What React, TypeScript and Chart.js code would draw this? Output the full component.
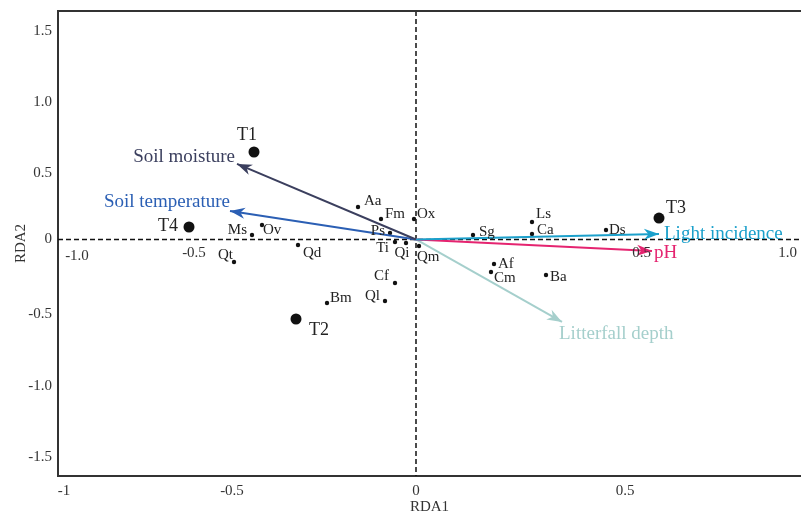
import React, { useEffect, useRef } from "react";
import { Chart, registerables } from "chart.js";
Chart.register(...registerables);

// ---- data ----
const siteNames = ["T1", "T2", "T3", "T4"];
const siteX = [-0.405, -0.3, 0.6075, -0.5675];
const siteY = [0.616, -0.56, 0.151, 0.088];

const speciesNames = ["Aa", "Fm", "Ox", "Ps", "Ti", "Qi", "Qm", "Sg", "Ls", "Ca", "Ds", "Af", "Cm", "Ba", "Cf", "Ql", "Bm", "Qd", "Qt", "Ms", "Ov"];
const speciesX = [-0.145, -0.0875, -0.005, -0.065, -0.0525, -0.025, 0.0075, 0.1425, 0.29, 0.29, 0.475, 0.195, 0.1875, 0.325, -0.0525, -0.0775, -0.2225, -0.295, -0.455, -0.41, -0.385];
const speciesY = [0.229, 0.144, 0.144, 0.046, -0.018, -0.025, -0.046, 0.032, 0.123, 0.039, 0.067, -0.173, -0.229, -0.25, -0.306, -0.433, -0.447, -0.039, -0.158, 0.032, 0.102];

const envNames = ["Soil moisture", "Soil temperature", "Light incidence", "pH", "Litterfall depth"];
const envX = [-0.4475, -0.465, 0.6075, 0.59, 0.365];
const envY = [0.532, 0.201, 0.039, -0.081, -0.581];

// tick label positions (as printed on the original, which are not evenly spaced)
const xTickValues = [-0.88, -0.46, 0, 0.5225];
const xTickLabels = ["-1", "-0.5", "0", "0.5"];
const yTickValues = [-1.53, -1.03, -0.525, 0, 0.47, 0.97, 1.47];
const yTickLabels = ["-1.5", "-1.0", "-0.5", "0", "0.5", "1.0", "1.5"];
const innerTickX = [-0.8475, -0.555, 0.564, 0.929];
const innerTickY = [-0.12, -0.095, -0.095, -0.095];
const innerTickLabels = ["-1.0", "-0.5", "0.5", "1.0"];

const xMin = -0.895;
const xMax = 0.9625;
const yMin = -1.6655;
const yMax = 1.609;

// ---- styles ----
const FONT = "'Liberation Serif', 'Times New Roman', serif";
const envColors = ["#3b3f5e", "#2b5fb4", "#1ba0cb", "#e52470", "#a5cfcc"];
type Off = [number, number, CanvasTextAlign];
const speciesLabelStyle: Off[] = [
  [6, -6, "left"], [4, -5, "left"], [3, -5, "left"], [-5, -2, "right"], [-6, 6, "right"],
  [-4, 10, "center"], [-2, 11, "left"], [6, -3, "left"], [4, -8, "left"], [5, -4, "left"],
  [3, 0, "left"], [4, 0, "left"], [3, 6, "left"], [4, 2, "left"], [-6, -7, "right"],
  [-5, -5, "right"], [3, -5, "left"], [5, 8, "left"], [-1, -7, "right"], [-5, -5, "right"],
  [1, 5, "left"],
];
const siteLabelStyle: Off[] = [[-7, -17, "center"], [13, 11, "left"], [7, -10, "left"], [-11, -1, "right"]];
const envLabelStyle: Off[] = [[-2, -7, "right"], [0, -9, "right"], [5, 0, "left"], [2, 2, "left"], [-3, 12, "left"]];

const decorPlugin = {
  id: "decor",
  beforeDatasetsDraw(chart: any) {
    const { ctx, chartArea, scales } = chart;
    const x0 = scales.x.getPixelForValue(0);
    const y0 = scales.y.getPixelForValue(0);
    ctx.save();
    ctx.strokeStyle = "#111";
    ctx.lineWidth = 1.5;
    ctx.setLineDash([5, 3]);
    ctx.beginPath();
    ctx.moveTo(chartArea.left, y0);
    ctx.lineTo(chartArea.right, y0);
    ctx.moveTo(x0, chartArea.top);
    ctx.lineTo(x0, chartArea.bottom);
    ctx.stroke();
    ctx.setLineDash([]);
    ctx.strokeStyle = "#333";
    ctx.lineWidth = 2;
    ctx.beginPath();
    ctx.moveTo(chartArea.left - 1, chartArea.top);
    ctx.lineTo(chartArea.right, chartArea.top);
    ctx.stroke();
    ctx.restore();
  },
  afterDatasetsDraw(chart: any) {
    const { ctx, scales } = chart;
    const sx = scales.x, sy = scales.y;
    const ox = sx.getPixelForValue(0), oy = sy.getPixelForValue(0);
    ctx.save();
    ctx.textBaseline = "middle";
    // arrow heads + labels
    envNames.forEach((name, i) => {
      const tx = sx.getPixelForValue(envX[i]);
      const ty = sy.getPixelForValue(envY[i]);
      const ang = Math.atan2(ty - oy, tx - ox);
      const L = 15, W = 5.5;
      const bx = tx - L * Math.cos(ang), by = ty - L * Math.sin(ang);
      const nx = tx - L * 0.7 * Math.cos(ang), ny = ty - L * 0.7 * Math.sin(ang);
      const px = -Math.sin(ang), py = Math.cos(ang);
      ctx.fillStyle = envColors[i];
      ctx.beginPath();
      ctx.moveTo(tx, ty);
      ctx.lineTo(bx + px * W, by + py * W);
      ctx.lineTo(nx, ny);
      ctx.lineTo(bx - px * W, by - py * W);
      ctx.closePath();
      ctx.fill();
      const st = envLabelStyle[i];
      ctx.font = `19px ${FONT}`;
      ctx.textAlign = st[2];
      ctx.fillText(name, tx + st[0], ty + st[1]);
    });
    // species labels
    ctx.fillStyle = "#222";
    ctx.font = `15px ${FONT}`;
    speciesNames.forEach((name, i) => {
      const st = speciesLabelStyle[i];
      ctx.textAlign = st[2];
      ctx.fillText(name, sx.getPixelForValue(speciesX[i]) + st[0], sy.getPixelForValue(speciesY[i]) + st[1]);
    });
    // site labels
    ctx.font = `18px ${FONT}`;
    siteNames.forEach((name, i) => {
      const st = siteLabelStyle[i];
      ctx.textAlign = st[2];
      ctx.fillText(name, sx.getPixelForValue(siteX[i]) + st[0], sy.getPixelForValue(siteY[i]) + st[1]);
    });
    // inline axis labels
    ctx.fillStyle = "#333";
    ctx.font = `15px ${FONT}`;
    ctx.textAlign = "center";
    innerTickLabels.forEach((t, i) => {
      ctx.fillText(t, sx.getPixelForValue(innerTickX[i]), sy.getPixelForValue(innerTickY[i]));
    });
    ctx.restore();
  },
};

export default function App() {
  const ref = useRef<HTMLCanvasElement | null>(null);
  useEffect(() => {
    if (!ref.current) return;
    const datasets: any[] = [];
    envNames.forEach((name, i) => {
      datasets.push({
        type: "line",
        label: name,
        data: [{ x: 0, y: 0 }, { x: envX[i], y: envY[i] }],
        borderColor: envColors[i],
        borderWidth: 2,
        pointRadius: 0,
        showLine: true,
        fill: false,
      });
    });
    datasets.push({
      type: "scatter",
      label: "species",
      data: speciesX.map((x, i) => ({ x, y: speciesY[i] })),
      backgroundColor: "#111",
      borderWidth: 0,
      pointRadius: 2.2,
    });
    datasets.push({
      type: "scatter",
      label: "sites",
      data: siteX.map((x, i) => ({ x, y: siteY[i] })),
      backgroundColor: "#111",
      borderWidth: 0,
      pointRadius: 5.5,
    });
    const chart = new Chart(ref.current, {
      type: "scatter",
      data: { datasets },
      options: {
        animation: false,
        responsive: true,
        maintainAspectRatio: false,
        devicePixelRatio: 1,
        layout: { autoPadding: false, padding: { left: 0, top: 11, right: 0, bottom: 0 } },
        plugins: { legend: { display: false }, tooltip: { enabled: false } },
        scales: {
          x: {
            type: "linear",
            min: xMin,
            max: xMax,
            bounds: "data",
            grid: { display: false, drawTicks: false },
            border: { display: true, color: "#333", width: 2 },
            afterBuildTicks: (s: any) => { s.ticks = xTickValues.map((v) => ({ value: v })); },
            afterFit: (s: any) => {
              s.height = 40;
              s.paddingLeft = 0;
              s.paddingRight = 0;
              s.paddingTop = 0;
              s.paddingBottom = 0;
            },
            ticks: {
              padding: 6,
              autoSkip: false,
              maxRotation: 0,
              color: "#333",
              font: { family: FONT, size: 15 },
              callback: (_v: any, i: number) => xTickLabels[i],
            },
            title: { display: true, text: "RDA1", color: "#333", font: { family: FONT, size: 15 }, padding: { top: 0, bottom: 0 } },
          },
          y: {
            type: "linear",
            min: yMin,
            max: yMax,
            bounds: "data",
            grid: { display: false, drawTicks: false },
            border: { display: true, color: "#333", width: 2 },
            afterBuildTicks: (s: any) => { s.ticks = yTickValues.map((v) => ({ value: v })); },
            afterFit: (s: any) => {
              s.width = 58;
              s.paddingLeft = 0;
              s.paddingRight = 0;
              s.paddingTop = 0;
              s.paddingBottom = 0;
            },
            ticks: {
              padding: 6,
              autoSkip: false,
              color: "#333",
              font: { family: FONT, size: 15 },
              callback: (_v: any, i: number) => yTickLabels[i],
            },
            title: { display: true, text: "RDA2", color: "#333", font: { family: FONT, size: 15 }, padding: { top: 12, bottom: 0 } },
          },
        },
      },
      plugins: [decorPlugin],
    } as any);
    return () => chart.destroy();
  }, []);
  return (
    <div style={{ position: "absolute", left: 0, top: 0, width: 801, height: 516, background: "#fff" }}>
      <canvas ref={ref} />
    </div>
  );
}
